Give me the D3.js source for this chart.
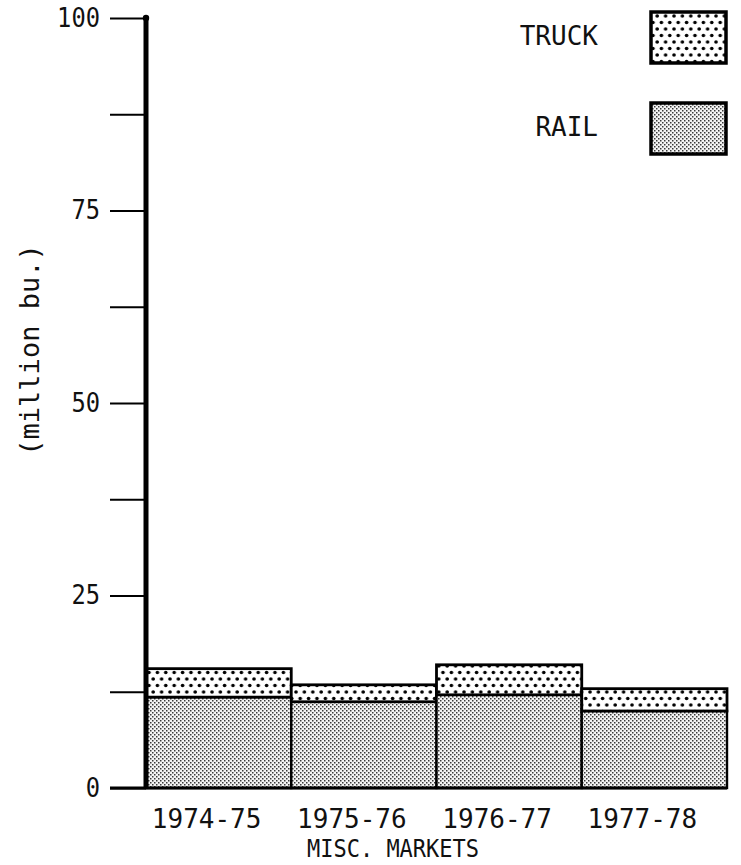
<!DOCTYPE html>
<html>
<head>
<meta charset="utf-8">
<script src="https://cdn.jsdelivr.net/npm/d3@7"></script>
<style>
  html, body { margin: 0; padding: 0; background: #fff; }
  svg { display: block; }
  text { font-family: "DejaVu Sans Mono", "Liberation Mono", monospace; fill: #111; }
</style>
</head>
<body>
<svg id="chart" width="741" height="865"></svg>
<script>
// ---- data ----
const categories = ["1974-75", "1975-76", "1976-77", "1977-78"];
const rail  = [11.8, 11.2, 12.1, 10.0];
const truck = [3.7, 2.2, 3.9, 2.9];
const yTickValues = [0, 12.5, 25, 37.5, 50, 62.5, 75, 87.5, 100];
const yTickLabels = {0: "0", 25: "25", 50: "50", 75: "75", 100: "100"};
const seriesNames = ["TRUCK", "RAIL"];
const xTitle = "MISC. MARKETS";
const yTitle = "(million bu.)";

const svg = d3.select("#chart");

// ---- patterns ----
const defs = svg.append("defs");
const pr = defs.append("pattern").attr("id", "railPat")
  .attr("patternUnits", "userSpaceOnUse").attr("width", 4).attr("height", 4);
pr.append("rect").attr("width", 4).attr("height", 4).attr("fill", "#f4f4f4");
pr.append("rect").attr("x", 0).attr("y", 0).attr("width", 1.5).attr("height", 1.5).attr("fill", "#3a3a3a");
pr.append("rect").attr("x", 2).attr("y", 2).attr("width", 1.5).attr("height", 1.5).attr("fill", "#3a3a3a");

const pt = defs.append("pattern").attr("id", "truckPat")
  .attr("patternUnits", "userSpaceOnUse").attr("width", 8.4).attr("height", 13);
pt.append("rect").attr("width", 8.4).attr("height", 13).attr("fill", "#fff");
pt.append("circle").attr("cx", 2).attr("cy", 3).attr("r", 1.8).attr("fill", "#000");
pt.append("circle").attr("cx", 6.2).attr("cy", 9.5).attr("r", 1.8).attr("fill", "#000");

// ---- scales ----
const y = d3.scaleLinear().domain([0, 100]).range([788, 18]);
const x = d3.scaleBand().domain(categories).range([146, 727]).padding(0);

// ---- bars ----
const g = svg.append("g");
categories.forEach((c, i) => {
  const x0 = x(c), w = x.bandwidth();
  g.append("rect").attr("x", x0).attr("y", y(rail[i]))
    .attr("width", w).attr("height", y(0) - y(rail[i]))
    .attr("fill", "url(#railPat)").attr("stroke", "#000").attr("stroke-width", 2.4);
  g.append("rect").attr("x", x0).attr("y", y(rail[i] + truck[i]))
    .attr("width", w).attr("height", y(rail[i]) - y(rail[i] + truck[i]))
    .attr("fill", "url(#truckPat)").attr("stroke", "#000").attr("stroke-width", 2.8);
});

// ---- axes ----
const yAxis = d3.axisLeft(y).tickValues(yTickValues)
  .tickFormat(d => yTickLabels[d] || "").tickSize(36).tickPadding(10);
const ya = svg.append("g").attr("transform", "translate(146,0)").call(yAxis);
ya.select(".domain").remove();
ya.selectAll(".tick line").attr("stroke", "#000").attr("stroke-width", 2);
ya.selectAll(".tick text").attr("font-size", 26).attr("fill", "#111")
  .attr("font-family", "DejaVu Sans Mono, monospace")
  .attr("textLength", d => (yTickLabels[d] || "").length * 14.3)
  .attr("lengthAdjust", "spacingAndGlyphs");

// thick vertical axis
svg.append("line").attr("x1", 146).attr("x2", 146).attr("y1", y(100)).attr("y2", y(0))
  .attr("stroke", "#000").attr("stroke-width", 5);
svg.append("circle").attr("cx", 146).attr("cy", y(100)).attr("r", 3.2).attr("fill", "#000");
// baseline
svg.append("line").attr("x1", 110).attr("x2", 727).attr("y1", y(0)).attr("y2", y(0))
  .attr("stroke", "#000").attr("stroke-width", 3);

// category labels
svg.append("g").selectAll("text").data(categories).join("text")
  .attr("x", d => x(d) + x.bandwidth() / 2 - 12)
  .attr("y", 828)
  .attr("text-anchor", "middle")
  .attr("font-size", 26)
  .text(d => d);

svg.append("text").attr("x", 393).attr("y", 857).attr("text-anchor", "middle")
  .attr("font-size", 24).attr("textLength", 172).attr("lengthAdjust", "spacingAndGlyphs")
  .text(xTitle);

svg.append("text").attr("transform", "translate(39,350) rotate(-90)")
  .attr("text-anchor", "middle").attr("font-size", 27).text(yTitle);

// ---- legend ----
const legend = svg.append("g");
const legendY = [12, 103];
const legendFill = ["url(#truckPat)", "url(#railPat)"];
seriesNames.forEach((s, i) => {
  legend.append("rect").attr("x", 651).attr("y", legendY[i]).attr("width", 75).attr("height", 51)
    .attr("fill", legendFill[i]).attr("stroke", "#000").attr("stroke-width", 3.5);
  legend.append("text").attr("x", 598).attr("y", legendY[i] + 33).attr("text-anchor", "end")
    .attr("font-size", 26).text(s);
});
</script>
</body>
</html>
